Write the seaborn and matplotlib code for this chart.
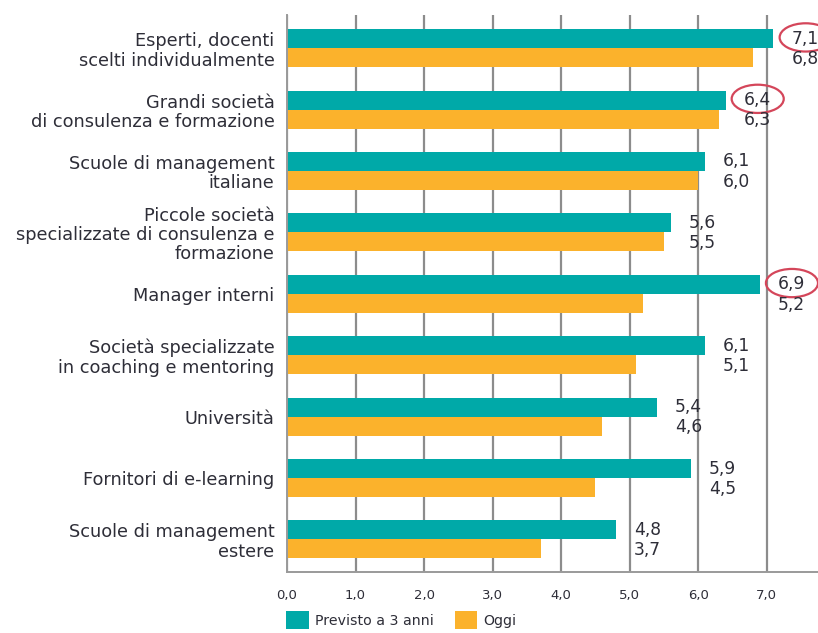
import matplotlib
matplotlib.use("Agg")
import matplotlib.pyplot as plt
from matplotlib.patches import Ellipse, Patch
import seaborn as sns
import pandas as pd

categories = [
    "Esperti, docenti\nscelti individualmente",
    "Grandi società\ndi consulenza e formazione",
    "Scuole di management\nitaliane",
    "Piccole società\nspecializzate di consulenza e\nformazione",
    "Manager interni",
    "Società specializzate\nin coaching e mentoring",
    "Università",
    "Fornitori di e-learning",
    "Scuole di management\nestere",
]
previsto = [7.1, 6.4, 6.1, 5.6, 6.9, 6.1, 5.4, 5.9, 4.8]
oggi = [6.8, 6.3, 6.0, 5.5, 5.2, 5.1, 4.6, 4.5, 3.7]
series_names = ["Previsto a 3 anni", "Oggi"]
highlighted = [0, 1, 4]  # categories whose forecast is circled
x_ticks = [0, 1, 2, 3, 4, 5, 6, 7]
x_tick_labels = ["0,0", "1,0", "2,0", "3,0", "4,0", "5,0", "6,0", "7,0"]

TEAL = "#00A9A8"
ORANGE = "#FBB22C"
GRID = "#8C8C8C"
TEXT = "#2E2E38"
RING = "#D4465A"

df = pd.DataFrame({
    "categoria": categories * 2,
    "serie": [series_names[0]] * len(categories) + [series_names[1]] * len(categories),
    "valore": previsto + oggi,
})

sns.set_style("white")
plt.rcParams["font.family"] = ["DejaVu Sans"]

fig = plt.figure(figsize=(8.18, 6.33), dpi=100)
ax = fig.add_axes([287 / 818, 1 - 572 / 633, 1 - 287 / 818, (572 - 15) / 633])

sns.barplot(
    data=df, y="categoria", x="valore", hue="serie", order=categories,
    hue_order=series_names, palette=[TEAL, ORANGE], orient="h",
    width=0.62, dodge=True, saturation=1, legend=False, linewidth=0,
    gap=0, ax=ax,
)

ax.set_xlim(0, 7.75)
ax.set_ylim(len(categories) - 0.47, -0.54)
ax.set_xlabel("")
ax.set_ylabel("")
ax.set_axisbelow(True)
ax.xaxis.grid(True, color=GRID, linewidth=1.6)
ax.yaxis.grid(False)
for side in ["top", "right"]:
    ax.spines[side].set_visible(False)
for side in ["left", "bottom"]:
    ax.spines[side].set_color("#9A9A9A")
    ax.spines[side].set_linewidth(1.4)

ax.set_xticks(x_ticks)
ax.set_xticklabels(x_tick_labels, fontsize=9.5, color=TEXT)
ax.tick_params(axis="x", length=4, color=GRID, width=1.4, pad=8)
ax.tick_params(axis="y", length=0, pad=9)
for lbl in ax.get_yticklabels():
    lbl.set_fontsize(12.8)
    lbl.set_color(TEXT)
    lbl.set_linespacing(1.1)
    lbl.set_horizontalalignment("right")
    lbl.set_multialignment("right")

bar_off = 0.155
for i, (p, o) in enumerate(zip(previsto, oggi)):
    lx = max(p, o) + 0.26
    ax.text(lx, i - bar_off, f"{p:.1f}".replace(".", ","), va="center",
            ha="left", fontsize=12.3, color=TEXT, clip_on=False)
    ax.text(lx, i + bar_off + 0.02, f"{o:.1f}".replace(".", ","), va="center",
            ha="left", fontsize=12.3, color=TEXT, clip_on=False)
    if i in highlighted:
        ax.add_patch(Ellipse((lx + 0.21, i - bar_off - 0.02), 0.76, 0.46,
                             fill=False, edgecolor=RING, linewidth=1.6,
                             clip_on=False))

handles = [Patch(facecolor=TEAL, edgecolor="none"),
           Patch(facecolor=ORANGE, edgecolor="none")]
leg = ax.legend(handles, series_names, loc="upper left",
                bbox_to_anchor=(-0.001, -0.07), ncol=2, frameon=False,
                handlelength=1.6, handleheight=1.6, handletextpad=0.4,
                columnspacing=1.5, fontsize=10.2, borderaxespad=0,
                borderpad=0)
for t in leg.get_texts():
    t.set_color(TEXT)

fig.savefig("out.png", dpi=100)
